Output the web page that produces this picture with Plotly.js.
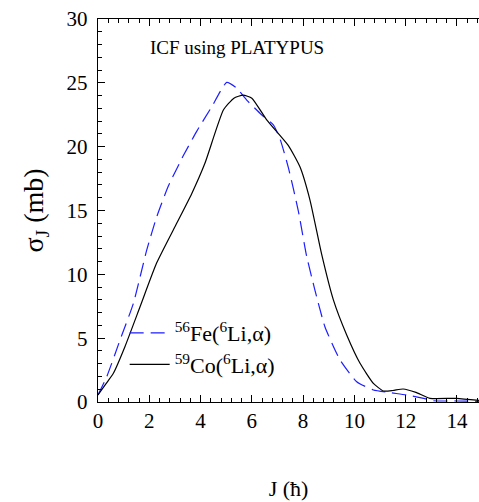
<!DOCTYPE html>
<html>
<head>
<meta charset="utf-8">
<script src="https://cdn.plot.ly/plotly-3.0.1.min.js"></script>
<style>html,body{margin:0;padding:0;background:#fff;}</style>
</head>
<body>
<div id="chart" style="width:479px;height:502px;"></div>
<script>
// 56Fe(6Li,alpha) - blue dashed
var feJ = [0, 0.34, 0.86, 1.38, 1.9, 2.29, 2.74, 3.33, 3.85, 4.43, 5.02, 5.4, 5.8, 6.38, 6.84, 7.1, 7.42, 7.81, 8.14, 8.46, 8.85, 9.44, 10.09, 10.74, 11.39, 12.04, 12.7, 13.08, 14.0, 14.86];
var feSigma = [0.55, 1.98, 4.86, 7.73, 11.9, 14.5, 16.9, 19.3, 21.2, 23.1, 25.03, 24.6, 23.65, 22.5, 21.7, 20.6, 18.4, 15.0, 11.4, 8.77, 5.9, 3.29, 1.59, 0.94, 0.73, 0.55, 0.29, 0.1, 0.08, 0.05];
// 59Co(6Li,alpha) - black solid
var coJ = [0, 0.3, 0.6, 1.05, 1.64, 2.29, 3.07, 3.65, 4.17, 4.89, 5.3, 5.66, 6.0, 6.58, 7.42, 7.88, 8.27, 8.72, 9.18, 9.7, 10.22, 10.74, 11.13, 11.5, 11.9, 12.4, 12.95, 13.98, 14.86];
var coSigma = [0.55, 1.4, 2.25, 4.33, 7.46, 10.9, 14.0, 16.3, 18.7, 22.87, 23.8, 24.04, 23.8, 22.1, 20.1, 18.4, 15.8, 11.6, 8.0, 5.25, 3.03, 1.46, 0.86, 0.9, 1.02, 0.75, 0.29, 0.29, 0.12];

var seriesNames = ["<sup>56</sup>Fe(<sup>6</sup>Li,α)", "<sup>59</sup>Co(<sup>6</sup>Li,α)"];
var xTickStep = 2;
var yTickStep = 5;

var fam = "Liberation Serif";

var traces = [
  {x: feJ, y: feSigma, mode: "lines", name: seriesNames[0],
   line: {color: "rgb(30,30,255)", width: 1.2, dash: "14px,7px", shape: "spline", smoothing: 0.5}},
  {x: coJ, y: coSigma, mode: "lines", name: seriesNames[1],
   line: {color: "#000", width: 1.2, shape: "spline", smoothing: 0.5}}
];

var layout = {
  width: 479, height: 502,
  margin: {l: 98, r: 0, t: 19, b: 100},
  font: {family: fam, color: "#000", size: 21},
  title: {text: "ICF using PLATYPUS", xref: "paper", x: 0.365, xanchor: "center",
          yref: "container", y: 0.906, yanchor: "middle", font: {size: 19}},
  showlegend: true,
  legend: {x: 0.07, y: 0.235, xanchor: "left", yanchor: "top", bgcolor: "rgba(0,0,0,0)",
           font: {size: 22}, itemwidth: 40, tracegroupgap: 4},
  xaxis: {range: [0, 14.86], dtick: xTickStep, tick0: 0, ticks: "inside", ticklen: 7, tickcolor: "#000",
    showline: true, linecolor: "#000", showgrid: false, zeroline: false, mirror: "ticks",
    title: {text: "J (ħ)", standoff: 48, font: {size: 22}},
    minor: {ticks: "inside", ticklen: 4, dtick: 0.4, tickcolor: "#000"}},
  yaxis: {range: [0, 30], dtick: yTickStep, tick0: 0, ticks: "inside", ticklen: 7, tickcolor: "#000",
    showline: true, linecolor: "#000", showgrid: false, zeroline: false, ticksuffix: " ",
    title: {text: "σ<sub>J</sub> (mb)", standoff: 14, font: {size: 28}},
    minor: {ticks: "inside", ticklen: 4, dtick: 1, tickcolor: "#000"}}
};

Plotly.newPlot("chart", traces, layout, {staticPlot: true});
</script>
</body>
</html>
